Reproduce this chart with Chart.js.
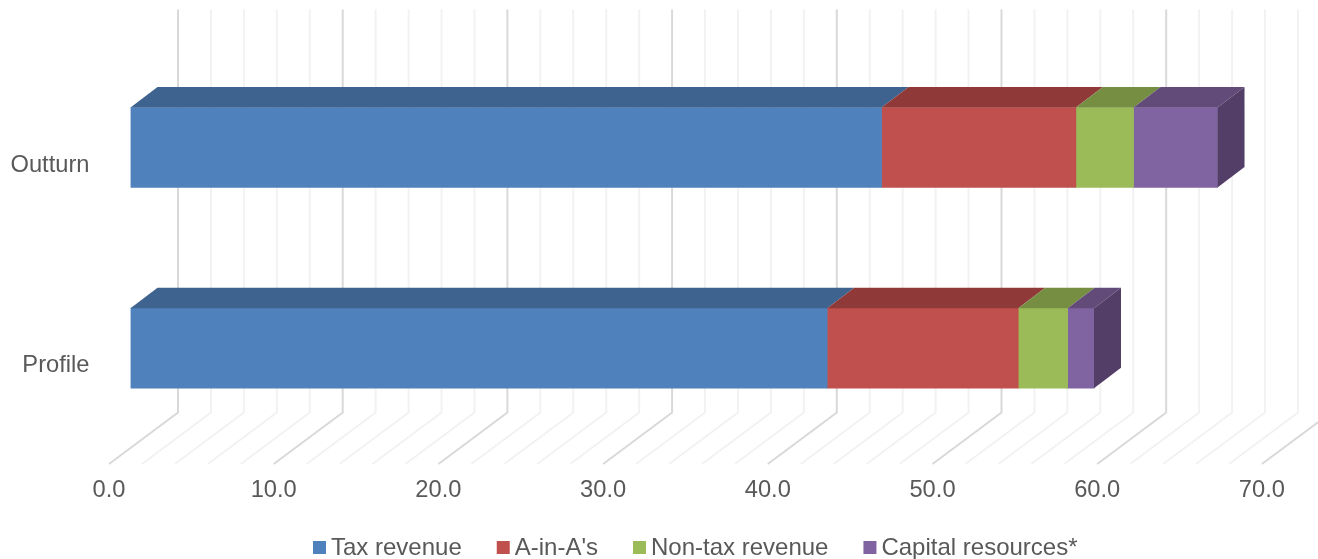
<!DOCTYPE html>
<html>
<head>
<meta charset="utf-8">
<script src="https://cdn.jsdelivr.net/npm/chart.js@4"></script>
<style>
  html, body { margin: 0; padding: 0; background: #fff; }
  #wrap { position: relative; width: 1318px; height: 559px; }
</style>
</head>
<body>
<div id="wrap"><canvas id="chart"></canvas></div>
<script>
const categories = ['Outturn', 'Profile'];
const taxRevenue = [45.6, 42.3];
const aInA = [11.8, 11.6];
const nonTax = [3.5, 3.0];
const capital = [5.1, 1.6];

const FONT = 'Liberation Sans, Arial, sans-serif';
const TEXT = '#595959';

// depth of the fake 3D boxes and of the floor/back wall
const DEPTH_X = 27, DEPTH_Y = 20.5;

const frontColors = ['#4F81BD', '#C0504D', '#9BBB59', '#8064A2'];
const topColors = ['#3E638F', '#8F3A38', '#768E42', '#624A79'];
const sideColor = '#523E66';

const wallPlugin = {
    id: 'wall',
    beforeDatasetsDraw(chart) {
        const {ctx, scales: {x}, chartArea} = chart;
        ctx.save();
        ctx.lineWidth = 2;
        for (let v = 0; v <= 70; v += 2) {
            const px = x.getPixelForValue(v);
            ctx.strokeStyle = v % 10 === 0 ? '#D9D9D9' : '#F2F2F2';
            ctx.beginPath();
            ctx.moveTo(px - 21.5, chartArea.bottom + 15.5);
            ctx.lineTo(px + 47.5, chartArea.bottom - 36);
            ctx.lineTo(px + 47.5, 9.5);
            ctx.stroke();
        }
        ctx.restore();
    }
};

const boxPlugin = {
    id: 'box3d',
    afterDatasetsDraw(chart) {
        const ctx = chart.ctx;
        const last = chart.data.datasets.length - 1;
        chart.data.datasets.forEach((ds, i) => {
            chart.getDatasetMeta(i).data.forEach(bar => {
                const top = bar.y - bar.height / 2;
                const bottom = bar.y + bar.height / 2;
                ctx.fillStyle = topColors[i];
                ctx.beginPath();
                ctx.moveTo(bar.base, top);
                ctx.lineTo(bar.base + DEPTH_X, top - DEPTH_Y);
                ctx.lineTo(bar.x + DEPTH_X, top - DEPTH_Y);
                ctx.lineTo(bar.x, top);
                ctx.closePath();
                ctx.fill();
                if (i === last) {
                    ctx.fillStyle = sideColor;
                    ctx.beginPath();
                    ctx.moveTo(bar.x, top);
                    ctx.lineTo(bar.x + DEPTH_X, top - DEPTH_Y);
                    ctx.lineTo(bar.x + DEPTH_X, bottom - DEPTH_Y);
                    ctx.lineTo(bar.x, bottom);
                    ctx.closePath();
                    ctx.fill();
                }
            });
        });
    }
};

// chart.js puts a wide gap between legend box and text, so it is drawn here
const legendPlugin = {
    id: 'bottomLegend',
    afterDraw(chart) {
        const ctx = chart.ctx;
        let px = 313;
        ctx.save();
        ctx.font = '24px ' + FONT;
        ctx.textBaseline = 'middle';
        chart.data.datasets.forEach(ds => {
            ctx.fillStyle = ds.backgroundColor;
            ctx.fillRect(px, 541, 13, 13);
            ctx.fillStyle = TEXT;
            ctx.fillText(ds.label, px + 18, 548);
            px += 18 + ctx.measureText(ds.label).width + 35;
        });
        ctx.restore();
    }
};

new Chart(document.getElementById('chart'), {
    type: 'bar',
    data: {
        labels: categories,
        datasets: [
            {label: 'Tax revenue', data: taxRevenue, backgroundColor: frontColors[0]},
            {label: "A-in-A's", data: aInA, backgroundColor: frontColors[1]},
            {label: 'Non-tax revenue', data: nonTax, backgroundColor: frontColors[2]},
            {label: 'Capital resources*', data: capital, backgroundColor: frontColors[3]}
        ]
    },
    plugins: [wallPlugin, boxPlugin, legendPlugin],
    options: {
        indexAxis: 'y',
        responsive: true,
        maintainAspectRatio: false,
        animation: false,
        layout: {padding: {top: 38.3, right: 34.6, bottom: 0, left: 0}},
        datasets: {bar: {barThickness: 80}},
        plugins: {
            legend: {display: false},
            tooltip: {enabled: false}
        },
        scales: {
            x: {
                stacked: true,
                min: 0,
                max: 70,
                // tick length instead of tick padding: padding eats into the right margin
                grid: {display: false, drawTicks: true, tickLength: 28},
                border: {display: false},
                afterFit(scale) { scale.height = 110.5; },
                ticks: {
                    stepSize: 10,
                    maxRotation: 0,
                    padding: 0,
                    labelOffset: -21.5,
                    color: TEXT,
                    font: {family: FONT, size: 23.7},
                    callback: v => v.toFixed(1)
                }
            },
            y: {
                stacked: true,
                grid: {display: false},
                border: {display: false},
                afterFit(scale) { scale.width = 130.5; },
                ticks: {
                    padding: 33,
                    labelOffset: 17.5,
                    color: TEXT,
                    font: {family: FONT, size: 23.7}
                }
            }
        }
    }
});
</script>
</body>
</html>
